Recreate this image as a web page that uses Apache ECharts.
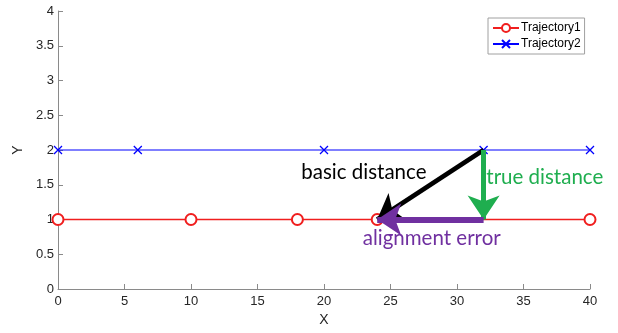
<!DOCTYPE html>
<html><head><meta charset="utf-8">
<script src="https://cdn.jsdelivr.net/npm/echarts@6/dist/echarts.min.js"></script>
<style>html,body{margin:0;padding:0;background:#fff}#c{width:618px;height:333px}</style>
</head><body><div id="c"></div>
<script>
const traj1X = [0, 10, 18, 24, 40];
const traj1Y = [1, 1, 1, 1, 1];
const traj2X = [0, 6, 20, 32, 40];
const traj2Y = [2, 2, 2, 2, 2];
const basicArrow = [[32, 2], [24, 1]];
const trueArrow = [[32, 2], [32, 1]];
const alignArrow = [[32, 1], [24, 1]];
const notes = [
  {text: 'basic distance', at: [23.0, 1.68], color: '#000000'},
  {text: 'true distance', at: [36.6, 1.61], color: '#1fae4f'},
  {text: 'alignment error', at: [28.1, 0.73], color: '#7030a0'}
];
const xTicks = {min: 0, max: 40, interval: 5};
const yTicks = {min: 0, max: 4, interval: 0.5};

const chart = echarts.init(document.getElementById('c'));
const axisCommon = {
  axisLine: {show: true, onZero: false, lineStyle: {color: '#8a8a8a', width: 1}},
  axisTick: {show: true, inside: true, length: 5, lineStyle: {color: '#8a8a8a'}},
  axisLabel: {color: '#262626', fontFamily: 'Liberation Sans', fontSize: 13},
  splitLine: {show: false},
  nameTextStyle: {color: '#262626', fontFamily: 'Liberation Sans', fontSize: 14}
};
const xSym = 'path://M0,0L10,10M10,0L0,10';
chart.setOption({
  animation: false,
  color: ['#ff0000', '#0000ff'],
  grid: {left: 58, right: 28, top: 11, bottom: 44},
  xAxis: Object.assign({type: 'value', name: 'X', nameLocation: 'middle', nameGap: 24}, xTicks, axisCommon, {
    axisLabel: Object.assign({}, axisCommon.axisLabel, {margin: 6})}),
  yAxis: Object.assign({type: 'value', name: 'Y', nameLocation: 'middle', nameGap: 28}, yTicks, axisCommon, {
    axisLabel: Object.assign({}, axisCommon.axisLabel, {margin: 4})}),
  legend: {
    left: 488, top: 18, orient: 'vertical', itemGap: 4, itemWidth: 26, itemHeight: 10,
    padding: [4, 4, 4, 4],
    borderColor: '#a0a0a0', borderWidth: 1, backgroundColor: '#fff',
    textStyle: {color: '#000', fontFamily: 'Liberation Sans', fontSize: 12, padding: [0, 0, 0, -3]},
    data: ['Trajectory1', 'Trajectory2']
  },
  series: [
    {name: 'Trajectory1', type: 'line', data: traj1X.map((x, i) => [x, traj1Y[i]]),
     symbol: 'emptyCircle', symbolSize: 11, showAllSymbol: true, color: '#f01e1e',
     lineStyle: {color: '#f01e1e', width: 1.5, opacity: 1}, itemStyle: {color: '#f01e1e', borderColor: '#f01e1e', borderWidth: 1.2}, z: 3},
    {name: 'Trajectory2', type: 'line', data: traj2X.map((x, i) => [x, traj2Y[i]]),
     symbol: xSym, symbolSize: 8, showAllSymbol: true, color: '#0000ff',
     lineStyle: {color: '#0000ff', width: 1.2, opacity: 1}, itemStyle: {color: '#0000ff', borderColor: '#0000ff', borderWidth: 1.3}, z: 3},
    {type: 'lines', coordinateSystem: 'cartesian2d', z: 5,
     symbol: ['none', 'arrow'], symbolSize: [17, 24],
     lineStyle: {opacity: 1},
     data: [
       {coords: basicArrow, lineStyle: {color: '#000000', width: 4.5, opacity: 1}},
       {coords: trueArrow, lineStyle: {color: '#1fae4f', width: 5, opacity: 1}},
       {coords: alignArrow, lineStyle: {color: '#7030a0', width: 6, opacity: 1}}
     ]}
  ]
});
chart.setOption({
  graphic: notes.map(n => {
    const p = chart.convertToPixel({gridIndex: 0}, n.at);
    return {type: 'text', x: p[0], y: p[1], z: 10,
      style: {text: n.text, fill: n.color, font: '20.5px Lato', align: 'center', verticalAlign: 'middle'}};
  })
});
</script></body></html>
